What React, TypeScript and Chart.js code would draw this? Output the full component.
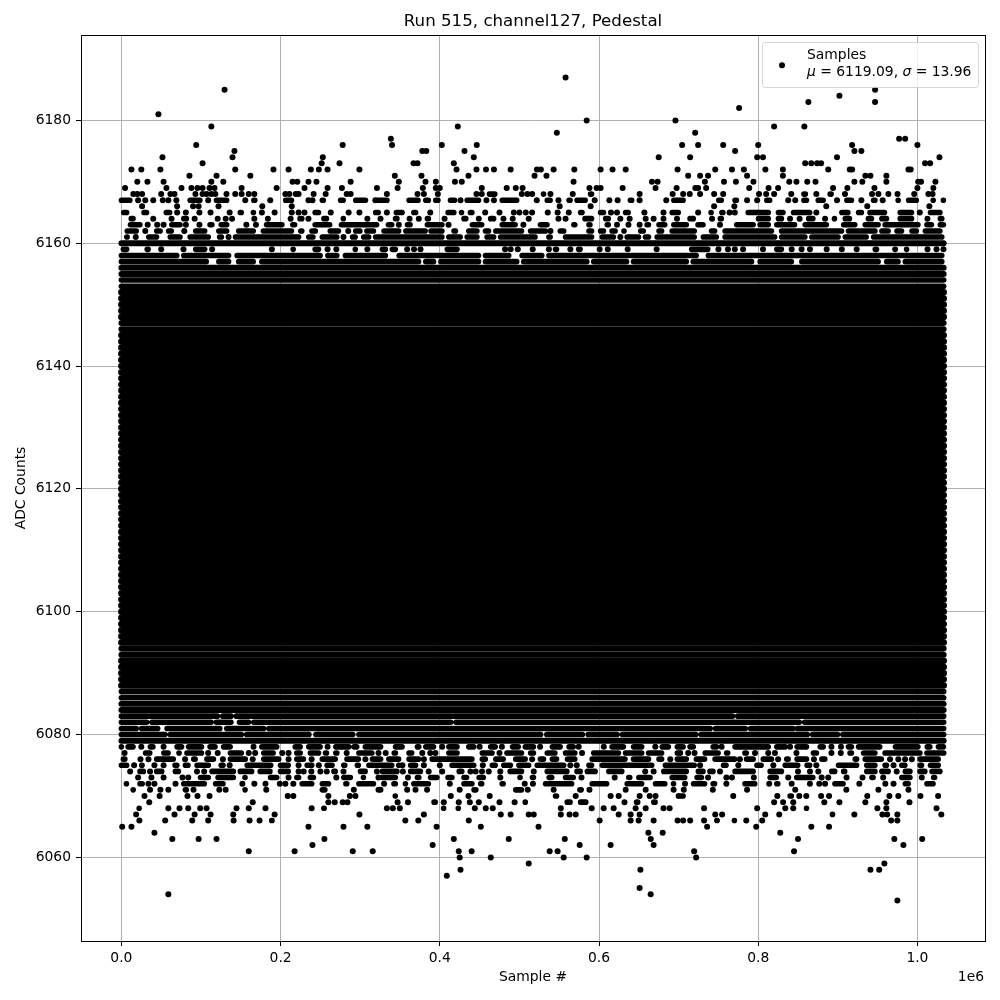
import React, { useEffect, useRef } from "react";
import { Chart, registerables } from "chart.js";

Chart.register(...registerables);

const chartTitle = "Run 515, channel127, Pedestal";
const xTitle = "Sample #";
const yTitle = "ADC Counts";
const xOffsetText = "1e6";
const legendName = "Samples";
const meanValue = "6119.09";
const sigmaValue = "13.96";
const xTickValues = [0, 200000, 400000, 600000, 800000, 1000000];
const yTickValues = [6060, 6080, 6100, 6120, 6140, 6160, 6180];

// Each row is an ADC level: [level, single samples (thousands), merged runs of samples as start,end pairs (thousands)]
type Row = [number, number[], number[]];

const upperRows: Row[] = [
  [6187, [558], []],
  [6185, [129.6, 946.8], []],
  [6184, [902], []],
  [6183, [863, 946.8], []],
  [6182, [776], []],
  [6181, [46.5], []],
  [6180, [584.5, 696], []],
  [6179, [113, 422.6, 820, 858], []],
  [6178, [547, 720.8], []],
  [6177, [338.5, 977, 984.6], []],
  [6176, [94, 278, 340, 402.5, 446.4, 704.4, 724.5, 756, 800, 918, 1000], []],
  [6175, [142, 378, 383, 431, 771, 920.8, 929.6], []],
  [6174, [51.6, 139.6, 253, 442.7, 675, 714.5, 798.7, 806, 899, 1027.7], []],
  [6173, [102, 251.6, 274, 367, 372, 417.6, 859, 866.7, 874, 879, 1009.6, 1016], []],
  [6172, [12.6, 25, 49, 143, 191, 210, 238, 248, 259, 299, 421, 446, 458, 468, 489, 522, 527, 543, 569, 602, 617, 633.5, 698.7, 746, 767, 782, 809, 831, 888, 915, 918, 988.7, 991.6], []],
  [6171, [85.5, 119.5, 162, 343.5, 377, 436, 519, 534, 712, 727, 737, 786, 831, 934.6, 941, 961], []],
  [6170, [20, 32.7, 53, 113, 128, 215, 221, 235, 245, 288, 348.5, 382, 395, 419, 427.6, 568, 666.5, 673.6, 733, 757, 772, 794, 839, 848, 861.6, 872, 920.8, 930.8, 961, 1001, 1004.6, 1022.6], []],
  [6169, [4.6, 56.6, 75.5, 88, 95.6, 102, 110.7, 117, 151, 195, 230, 259, 277, 321, 347, 378.7, 395, 400, 452.7, 484, 495.4, 504, 588, 597, 602, 629.7, 671, 697.5, 721, 724.5, 734.6, 788.7, 813, 825, 894, 912, 946, 1000, 1020], []],
  [6168, [15, 20, 26, 50, 61.6, 66.7, 93, 102, 107, 113, 118, 132, 143, 151, 160, 167, 206, 211, 219, 222.6, 241.5, 256.6, 283, 288, 333.5, 372, 380, 397.5, 446, 452.7, 503, 510, 516, 539, 567, 651, 692.5, 705.7, 714, 727, 744.6, 756, 801, 810, 820, 841.5, 873, 909, 943, 951, 963.5, 975, 996, 1013.8, 1019], [460, 471.5, 528, 533, 587, 593, 855, 861.6, 888, 894]],
  [6167, [21, 30, 40, 52, 59, 69, 109, 155.6, 187, 235, 240, 319, 426, 458.6, 468, 521.8, 549, 594.6, 613, 623.4, 651, 684.5, 786, 798.7, 837.7, 846.5, 899, 929.6, 956.4], [0, 13, 84, 101, 117, 134.6, 164, 170, 204, 216, 250, 256, 273, 281, 292, 309, 319, 336, 359, 375, 380, 388, 392.5, 400, 411, 421, 432, 451, 476, 499, 532.6, 541, 560, 566, 570, 585, 637, 643.5, 691.6, 708, 748, 756, 768.5, 775, 808.4, 816.8, 855, 863, 873, 884, 909, 919.5, 942.6, 949, 974, 978, 986.6, 1001, 1018, 1022, 1030.6, 1035]],
  [6166, [26, 70, 90, 97, 122, 177, 214, 550.6, 589.5, 744.6, 770, 885.5, 937, 1015], []],
  [6165, [70, 81, 98, 112, 136, 176.5, 192.5, 214, 222.6, 230, 263, 285.5, 299, 333.5, 388, 457, 475, 493, 500, 508, 516, 535.6, 548, 562, 615, 622.6, 657, 681, 724.5, 764, 770.6, 873, 1003], [3, 9, 26, 34, 54, 63, 147, 153, 164, 168, 241, 250, 317, 325, 343, 355, 365, 372, 408, 420, 425, 430, 436, 442.7, 574.5, 581, 599.6, 608, 631, 639, 689.5, 702, 739, 743, 752, 758, 785, 815, 823, 833.5, 842, 867, 902.7, 915, 923.7, 932, 938, 961, 976, 995, 1014, 1030.6]],
  [6164, [40, 63, 92, 121, 131, 139, 167, 184, 212.6, 235, 309, 325.5, 362, 373.6, 406, 449, 480, 491.6, 511.7, 549, 558, 626.8, 638.5, 658.6, 668.6, 681, 698, 742, 840, 852, 884, 1012.6], [10, 17, 76, 84, 222, 229, 252, 260, 277, 281, 342, 348.5, 382, 388, 428, 435, 461.5, 470, 580, 593, 606, 614, 712, 720.8, 750, 756, 798, 815, 823, 831.5, 861, 871, 893.5, 898.5, 907, 917, 936, 944.6, 953, 963.5, 976, 995, 1026.4, 1033]],
  [6163, [33, 45, 53, 81, 98, 157, 169, 348.5, 411, 505, 622.6, 637, 651, 752], [9, 25.6, 61, 76, 109, 116, 123, 134.6, 180, 204, 213, 220, 241, 264, 274, 323, 333, 342, 357, 365, 382, 405, 438.5, 455, 476, 497, 524, 537, 566, 572, 585, 591, 608, 614, 658, 664.5, 673, 685, 691.6, 712, 722, 733, 770.6, 796, 800, 815, 821, 848, 856.6, 888, 905, 923.7, 932, 953, 957, 1003, 1009.6, 1020, 1026.4, 1035]],
  [6162, [30, 79, 285, 539], [5, 21, 42, 51, 57, 65, 91, 107, 120, 134.6, 145, 168, 176, 216, 223, 229, 237, 246, 260, 275, 292, 302, 306, 319, 327.6, 350.6, 355, 384, 386.6, 405, 415.5, 422, 434, 449, 455, 463.6, 468, 505, 511.7, 535, 549, 558, 585, 593, 599.6, 608, 614, 622.6, 629, 635, 650, 658, 673, 681, 689.5, 722, 739, 747.6, 756, 819, 827, 907, 911, 949, 953, 965.6, 972, 982.4, 990.8, 1001, 1007.6, 1030.6]],
  [6161, [18, 134.6, 279, 626.8], [5, 9, 32, 46.5, 59, 76, 84, 111.5, 121, 128, 141, 225, 233, 243, 250, 273, 288, 296, 302, 313, 317, 405, 409, 428, 432, 449, 457, 470, 474, 522, 534.7, 541, 555.6, 593, 601.7, 620.5, 633, 652, 656, 664.5, 670.7, 722, 728.7, 749.7, 756, 823, 827, 861, 865, 902.7, 907, 938, 942.6, 1033]],
  [6159, [50, 78, 114, 189, 259, 270, 309, 359, 367.6, 375.7, 482, 489, 498, 516.7, 537, 564, 600.8, 611, 636, 672.4, 750, 762, 770.6, 781, 806, 842, 854.5, 865, 886, 905, 923.7, 1012.7, 1024, 1032.7], [2.5, 9, 30, 36, 91, 107, 214, 218, 241, 250, 292, 296, 325.5, 334, 338, 346.5, 407, 424, 543, 549, 572, 578.6, 714, 739, 821, 831.5, 944.6, 951, 970, 974, 984.5, 988.7]],
  [6158, [], [0, 72, 76, 137, 143, 252, 257, 273, 279, 334, 346.5, 451, 455, 489, 501, 530.5, 534.7, 724.5, 735, 1033]],
  [6157, [], [0, 109, 120, 137, 145, 168, 174, 375.7, 380, 394.5, 399, 451, 455, 499, 503, 587, 591, 637, 641, 712, 716, 794, 800, 844, 852.4, 953, 959, 978, 982.4, 1033]],
];

const lowerRows: Row[] = [
  [6083, [], [0, 123, 125, 140, 142, 770, 772, 1036]],
  [6082, [], [0, 34, 36, 115, 117, 140, 146, 162, 164, 416, 418, 854, 856, 1036]],
  [6081, [], [0, 21, 23, 48, 55, 126, 130, 181, 183, 742, 744, 786, 788, 846, 847, 1036]],
  [6080, [], [0, 57, 59, 153, 155, 238, 242, 293, 296, 529, 532, 581.5, 584, 625, 627, 724, 726, 864, 866, 902, 904, 1036]],
  [6078, [25, 53, 166, 259, 403, 450, 478, 526, 574.5, 606, 670.7, 892, 904, 754, 840], [0, 3, 6, 17, 34, 42, 67.5, 78, 82, 103, 109, 120, 126, 139, 174, 197.5, 216, 227, 233, 252, 267, 288, 290, 298, 304, 328, 342, 355, 369.5, 376, 380, 394.5, 409, 424, 434, 445, 461.5, 472, 489, 501, 505, 520, 539, 553.6, 560, 570, 614, 633, 641, 656, 677, 689.5, 696, 708, 712, 720.8, 741, 750, 768.5, 815, 821, 836.4, 846.5, 863, 875.5, 884, 911, 919.5, 923.7, 955, 970, 1003, 1010, 1018, 1024, 1035]],
  [6077, [4, 109, 121, 160, 168, 202, 210, 283, 323, 332, 378, 388, 394.5, 475, 578.7, 702, 712, 720, 796, 812.6, 821, 848, 892, 903.7], [28, 38, 51, 61, 70, 76, 80, 103, 134.6, 153, 176.5, 193, 218, 227, 235, 250, 254, 260, 267, 273, 296, 317, 340.4, 346.6, 359, 367, 409, 424, 451, 468, 482, 505, 511.7, 520, 532.6, 547, 555.6, 572, 591, 626.8, 631, 656, 660, 681, 696, 702, 731, 752, 758, 764, 781, 787.4, 867, 875.5, 913, 919.5, 930, 949, 957, 1005.5, 1009.6, 1036]],
  [6076, [24, 34, 80, 127.5, 165, 210, 239, 306.5, 380, 516, 689.5, 777, 825, 870, 965.6, 976, 984.5, 993], [2.5, 6.7, 42, 67.5, 88.5, 95, 105, 118, 134.6, 158, 176.5, 200, 218, 231, 250, 271, 281, 300, 313, 328, 333.6, 350.6, 359, 375.7, 388, 442.7, 451, 459.5, 468, 482, 493, 509.6, 524, 532.6, 539, 549, 558, 572, 589, 635, 641, 664.5, 673, 681, 696, 712, 720, 735, 743.4, 772.7, 783, 796, 804, 819, 833.5, 840, 846.5, 863, 877.6, 886, 919.5, 926, 932, 957, 1001, 1028.5]],
  [6075, [16, 41.5, 53, 136, 222.6, 248, 353, 380, 400, 454, 564, 572, 727, 775, 819, 873, 970], [0, 9, 23.5, 28, 65, 72, 78, 86, 92.7, 111.5, 123, 130, 155.6, 190, 197.5, 212, 231, 241.5, 256, 267, 277, 283, 294, 300, 308.6, 342, 346.5, 350.6, 361, 372, 413, 445, 463.6, 472, 478, 491, 497, 514, 520, 558, 585, 593, 601.7, 668.6, 681, 722, 754, 762, 796, 806, 831.5, 852, 859, 867, 898.5, 926, 934, 949, 957, 963.5, 978, 986.6, 1001, 1007.6, 1014, 1028.5]],
  [6074, [11, 36, 95, 104, 222.6, 229, 238.6, 250, 258, 279, 321, 353.6, 386, 403, 438.5, 445, 453, 461.5, 476, 518, 658, 668.6, 752, 850, 865, 875.5, 974], [21, 30, 42, 53, 65.4, 74, 111.5, 143, 147, 166, 172, 189, 197.5, 212, 264.6, 271, 298, 308.6, 325.5, 348.5, 361, 378, 422, 430, 486, 505, 532.6, 562, 570, 578.7, 583, 597.5, 610, 631, 679, 712, 722.4, 733, 737, 745.5, 768.5, 796, 812.6, 831.5, 890, 898.5, 905, 911, 934, 949, 953, 965.6, 982.4, 993, 1001, 1011.7, 1016, 1030.6]],
  [6073, [21, 37.7, 53, 76.7, 84, 210, 270, 323, 360, 476, 578, 619.7, 737, 760, 767, 794.5, 837.7, 879.7, 888, 911, 931, 957, 1005.5], [97, 111.5, 119, 143, 153, 158, 185, 197.5, 218, 225, 235, 243.6, 277, 290, 302, 306.5, 325.5, 346.5, 369.5, 376, 386, 398.7, 408, 417.6, 428, 436, 447, 457, 499, 503, 514, 520, 535, 543, 555.6, 570, 635, 641, 647.7, 666.5, 689.5, 710, 720.8, 731, 812.6, 825, 846, 871, 940.5, 946.7, 978, 993, 1018, 1024]],
  [6072, [34, 41.5, 68, 152, 167, 181, 199, 206, 216, 330, 412.6, 506.7, 517, 708, 760, 813.8, 842, 865, 876.7, 884, 927, 959.7, 970], [4, 9, 21, 28.5, 76, 106.5, 116, 130, 224.7, 241.5, 250, 262.5, 279.6, 285.5, 296, 319, 340, 346.5, 355, 359, 365, 388, 428, 442.7, 449, 455, 476, 482, 530.5, 568, 589, 612, 633, 656, 668.6, 685, 691.6, 696, 716.4, 735, 741, 747.6, 781, 798, 821, 827, 894, 909, 982.4, 990.8, 1009.6, 1022]],
  [6071, [36, 49, 59, 90.6, 123, 131, 182, 292, 323, 325.5, 359, 369.5, 384, 425, 510.5, 543, 588, 633.5, 658.6, 693.7, 706.5, 743, 786, 846.5, 910.7, 951, 988.7], [13, 17, 78, 84, 153.5, 157.6, 250, 258, 440.6, 447.7, 493, 505, 573.6, 580]],
  [6070, [29, 48, 83, 95.6, 110.7, 209, 216, 260, 287, 294, 413.8, 436, 462.7, 570.7, 614.6, 624.7, 651, 663.6, 671, 700, 768.6, 824, 851.6, 860.4, 879, 889, 937, 964.8, 976, 1003.8, 1026], [342, 346.5, 543, 549, 701.5, 708, 837.7, 844]],
  [6069, [35, 165, 260, 268, 278, 284, 347, 360, 405, 423.8, 437.7, 449, 475, 494, 632, 820, 844, 883, 902, 934.6, 961, 990], [390.4, 396.6, 505.5, 509.6, 557.7, 566, 574.5, 585.8, 644.8, 651, 666.5, 672.8, 829, 833.5]],
  [6068, [59, 73, 84, 99, 107, 144.6, 160, 181, 239, 333.5, 341, 349.8, 444, 457.7, 466.5, 552, 590.8, 605.9, 618.4, 646, 658.6, 681, 688.7, 732, 798.7, 834, 844, 949.7, 961, 1024], [20, 25, 253, 256, 403, 407, 421.8, 425, 858.7, 863]],
  [6067, [66.7, 92, 112, 140.5, 192.5, 299, 380, 476.6, 489, 511.7, 518, 552, 563, 570.7, 624.7, 639.7, 651, 746, 754.7, 808.8, 826.4, 920.8, 956, 962, 974.8, 1030], [16, 21, 892, 895]],
  [6066, [22.6, 55, 89, 109, 141, 161, 173.6, 356.7, 373, 436.4, 600.8, 639.7, 649.8, 668.6, 698.7, 705.7, 714.5, 732, 785, 805, 967, 974.8], [188, 190, 746.7, 749.7, 768.6, 772]],
  [6065, [1, 12.6, 235, 279, 309, 396, 451.5, 524, 735.8, 797.5, 866.7, 889], []],
  [6064, [41.5, 662, 680, 827.7], []],
  [6063, [64, 97, 119.5, 255, 417.6, 486.6, 557, 665, 850, 971, 1006], []],
  [6062, [240, 391, 575.7, 614.6, 668.6, 982.4], []],
  [6061, [160, 217.6, 290.6, 315.7, 423.8, 440, 538, 548, 719.5, 845], []],
  [6060, [425, 464, 555.6, 584.5, 722], []],
  [6059, [511.7, 958.5], []],
  [6058, [426, 652, 941, 952], []],
  [6057, [408.8], []],
  [6055, [651], []],
  [6054, [59, 664.9], []],
  [6053, [974.8], []],
];

// Levels so densely sampled that every sample overlaps its neighbours across the whole run
const sampleRunStart = 0;
const sampleRunEnd = 1033;
const seamLevels = [6086, 6087, 6153, 6154];
const openLevels = [6079, 6084, 6085, 6093, 6094, 6146, 6147, 6155, 6156, 6160];
const solidLevels = [6088, 6089, 6090, 6091, 6092, 6095, 6096, 6097, 6098, 6099, 6100, 6101, 6102, 6103, 6104, 6105, 6106, 6107, 6108, 6109, 6110, 6111, 6112, 6113, 6114, 6115, 6116, 6117, 6118, 6119, 6120, 6121, 6122, 6123, 6124, 6125, 6126, 6127, 6128, 6129, 6130, 6131, 6132, 6133, 6134, 6135, 6136, 6137, 6138, 6139, 6140, 6141, 6142, 6143, 6144, 6145, 6148, 6149, 6150, 6151, 6152];

const K = 1000;
const RUN_INSET = 2.4; // run ends above were read at the visible edge of the last sample's dot
const allRows = [...upperRows, ...lowerRows];
const dotPoints = allRows.flatMap(([y, dots]) => dots.map((x) => ({ x: x * K, y })));
const gap = { x: null, y: null };
const runPoints = allRows.flatMap(([y, , runs]) => {
  const out: any[] = [];
  for (let i = 0; i + 1 < runs.length; i += 2) {
    let a = runs[i] <= 3 ? runs[i] : runs[i] + RUN_INSET;
    let b = Math.min(runs[i + 1] - RUN_INSET, sampleRunEnd);
    if (b - a < 0.4) {
      const m = (runs[i] + runs[i + 1]) / 2;
      a = m - 0.2;
      b = m + 0.2;
    }
    out.push({ x: a * K, y }, { x: b * K, y }, gap);
  }
  return out;
});
const levelRun = (levels: number[]) =>
  levels.flatMap((y) => [{ x: sampleRunStart * K, y }, { x: sampleRunEnd * K, y }, gap]);

const FONT = "'DejaVu Sans'";
const TEXT = "#000";

const framePlugin = {
  id: "frameAndLegend",
  afterDraw(chart: any) {
    const { ctx, chartArea: a } = chart;
    ctx.save();
    ctx.strokeStyle = "#000";
    ctx.lineWidth = 1;
    ctx.strokeRect(a.left + 0.5, a.top + 0.5, a.right - a.left, a.bottom - a.top);

    // legend box
    ctx.beginPath();
    ctx.roundRect(762.5, 42.5, 216, 45, 3);
    ctx.fillStyle = "rgba(255,255,255,0.8)";
    ctx.fill();
    ctx.strokeStyle = "rgba(204,204,204,0.8)";
    ctx.stroke();
    ctx.fillStyle = "#000";
    ctx.beginPath();
    ctx.arc(782, 65.2, 3, 0, Math.PI * 2);
    ctx.fill();

    ctx.textBaseline = "alphabetic";
    ctx.textAlign = "left";
    ctx.font = `13.89px ${FONT}`;
    ctx.fillText(legendName, 807, 58.5);
    let x = 807;
    const y = 75.5;
    const parts: [string, boolean][] = [
      ["μ", true],
      [` = ${meanValue}, `, false],
      ["σ", true],
      [` = ${sigmaValue}`, false],
    ];
    for (const [s, italic] of parts) {
      ctx.font = `${italic ? "italic " : ""}13.89px ${FONT}`;
      ctx.fillText(s, x, y);
      x += ctx.measureText(s).width;
    }

    // axis offset text
    ctx.font = `13.89px ${FONT}`;
    ctx.textAlign = "right";
    ctx.fillText(xOffsetText, 984, 980.5);
    ctx.restore();
  },
};

const lineBase = { showLine: true, spanGaps: false, borderColor: "#000", borderCapStyle: "round", pointRadius: 0 };

export default function App() {
  const ref = useRef<HTMLCanvasElement | null>(null);
  useEffect(() => {
    const chart = new Chart(ref.current as HTMLCanvasElement, {
      type: "scatter",
      data: {
        datasets: [
          { label: legendName, data: dotPoints, backgroundColor: "#000", borderWidth: 0, pointRadius: 3, order: 1 },
          { ...lineBase, label: "runs", data: runPoints, borderWidth: 5.6, order: 2 },
          { ...lineBase, label: "seam", data: levelRun(seamLevels), borderWidth: 5.6, order: 3 },
          { ...lineBase, label: "open", data: levelRun(openLevels), borderWidth: 5.95, order: 4 },
          { ...lineBase, label: "solid", data: levelRun(solidLevels), borderWidth: 6.6, order: 5 },
        ] as any,
      },
      plugins: [framePlugin],
      options: {
        responsive: false,
        animation: false,
        layout: { autoPadding: false, padding: { left: 0, right: 15, top: 0, bottom: 0 } },
        plugins: {
          legend: { display: false },
          tooltip: { enabled: false },
          title: {
            display: true,
            fullSize: false,
            text: chartTitle,
            color: TEXT,
            font: { family: FONT, size: 16.67, weight: "normal", lineHeight: 1.2 },
            padding: { top: 12, bottom: 3 },
          },
        },
        scales: {
          x: {
            type: "linear",
            min: -50750,
            max: 1084900,
            afterBuildTicks: (s: any) => {
              s.ticks = xTickValues.map((value) => ({ value }));
            },
            afterFit: (s: any) => {
              s.height = 59;
            },
            title: {
              display: true,
              text: xTitle,
              color: TEXT,
              font: { family: FONT, size: 13.89, lineHeight: 1.2 },
              padding: { top: 0, bottom: 14.7 },
            },
            border: { display: true, color: "#000", width: 1 },
            grid: { color: "#b0b0b0", lineWidth: 1, tickColor: "#000", tickLength: 5, drawTicks: true },
            ticks: {
              color: TEXT,
              font: { family: FONT, size: 13.89 },
              padding: 4,
              maxRotation: 0,
              autoSkip: false,
              callback: (v: any) => (Number(v) / 1e6).toFixed(1),
            },
          },
          y: {
            type: "linear",
            min: 6046.39,
            max: 6193.9,
            afterBuildTicks: (s: any) => {
              s.ticks = yTickValues.map((value) => ({ value }));
            },
            afterFit: (s: any) => {
              s.width = 81;
            },
            title: {
              display: true,
              text: yTitle,
              color: TEXT,
              font: { family: FONT, size: 13.89, lineHeight: 1.2 },
              padding: { top: 12.7, bottom: 0 },
            },
            border: { display: true, color: "#000", width: 1 },
            grid: { color: "#b0b0b0", lineWidth: 1, tickColor: "#000", tickLength: 5, drawTicks: true },
            ticks: {
              color: TEXT,
              font: { family: FONT, size: 13.89 },
              padding: 5,
              autoSkip: false,
              callback: (v: any) => String(v),
            },
          },
        },
      } as any,
    });
    return () => chart.destroy();
  }, []);
  return (
    <div style={{ position: "fixed", left: 0, top: 0, width: 1000, height: 1000, background: "#fff" }}>
      <canvas ref={ref} width={1000} height={1000} style={{ display: "block" }} />
    </div>
  );
}
